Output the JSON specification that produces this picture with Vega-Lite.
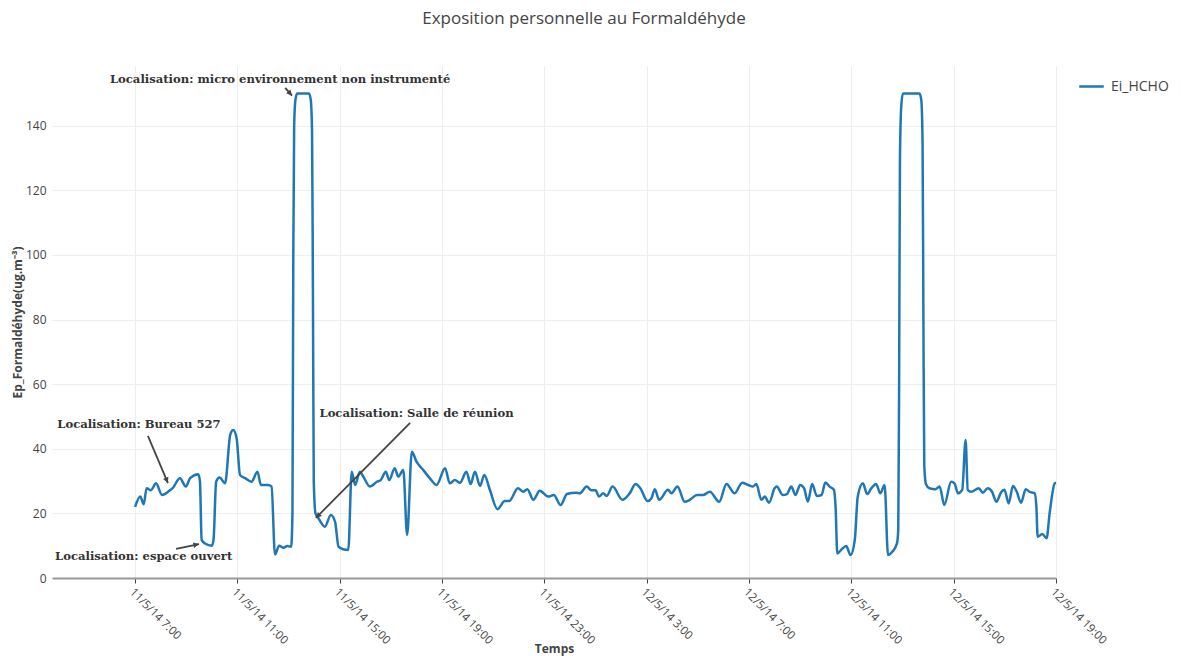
{
  "$schema": "https://vega.github.io/schema/vega-lite/v6.json",
  "width": 1004,
  "height": 512,
  "autosize": {"type": "none"},
  "padding": {"left": 52, "top": 66, "right": 125, "bottom": 78},
  "background": "white",
  "title": {"text": "Exposition personnelle au Formaldéhyde", "font": "Open Sans", "fontSize": 17, "fontWeight": "normal", "color": "#444", "anchor": "middle", "dx": 30, "offset": 38},
  "config": {
    "view": {"stroke": null},
    "axis": {"gridColor": "#eee", "gridWidth": 1, "labelFont": "Open Sans", "labelColor": "#444", "labelFontSize": 12, "titleFont": "Open Sans", "titleColor": "#444", "titleFontSize": 12, "titleFontWeight": "bold"},
    "legend": {"labelFont": "Open Sans", "labelFontSize": 14, "labelColor": "#444"}
  },
  "datasets": {
    "series": [
      {"t": "2014-05-11T07:00:00", "v": 22},
      {"t": "2014-05-11T07:12:00", "v": 25.2},
      {"t": "2014-05-11T07:20:00", "v": 22.8},
      {"t": "2014-05-11T07:27:00", "v": 27.8},
      {"t": "2014-05-11T07:37:00", "v": 27.2},
      {"t": "2014-05-11T07:49:00", "v": 29.3},
      {"t": "2014-05-11T08:03:00", "v": 25.7},
      {"t": "2014-05-11T08:22:00", "v": 27.2},
      {"t": "2014-05-11T08:28:00", "v": 27.8},
      {"t": "2014-05-11T08:45:00", "v": 30.9},
      {"t": "2014-05-11T08:59:00", "v": 28.3},
      {"t": "2014-05-11T09:09:00", "v": 30.9},
      {"t": "2014-05-11T09:28:00", "v": 32.1},
      {"t": "2014-05-11T09:32:00", "v": 30},
      {"t": "2014-05-11T09:36:00", "v": 11.8},
      {"t": "2014-05-11T09:44:00", "v": 10.7},
      {"t": "2014-05-11T10:00:00", "v": 10.0},
      {"t": "2014-05-11T10:04:00", "v": 12},
      {"t": "2014-05-11T10:10:00", "v": 29.8},
      {"t": "2014-05-11T10:18:00", "v": 31.1},
      {"t": "2014-05-11T10:31:00", "v": 29.3},
      {"t": "2014-05-11T10:43:00", "v": 44.3},
      {"t": "2014-05-11T10:50:00", "v": 45.8},
      {"t": "2014-05-11T10:58:00", "v": 43.3},
      {"t": "2014-05-11T11:06:00", "v": 31.9},
      {"t": "2014-05-11T11:18:00", "v": 30.9},
      {"t": "2014-05-11T11:33:00", "v": 29.8},
      {"t": "2014-05-11T11:47:00", "v": 32.9},
      {"t": "2014-05-11T11:55:00", "v": 28.8},
      {"t": "2014-05-11T12:12:00", "v": 28.8},
      {"t": "2014-05-11T12:20:00", "v": 28.3},
      {"t": "2014-05-11T12:28:00", "v": 7.3},
      {"t": "2014-05-11T12:38:00", "v": 10.0},
      {"t": "2014-05-11T12:48:00", "v": 9.4},
      {"t": "2014-05-11T12:57:00", "v": 9.9},
      {"t": "2014-05-11T13:06:00", "v": 9.7},
      {"t": "2014-05-11T13:09:00", "v": 20},
      {"t": "2014-05-11T13:11:00", "v": 100},
      {"t": "2014-05-11T13:13:00", "v": 140},
      {"t": "2014-05-11T13:16:00", "v": 148},
      {"t": "2014-05-11T13:20:00", "v": 150},
      {"t": "2014-05-11T13:48:00", "v": 150},
      {"t": "2014-05-11T13:52:00", "v": 148},
      {"t": "2014-05-11T13:55:00", "v": 138},
      {"t": "2014-05-11T13:57:00", "v": 90},
      {"t": "2014-05-11T13:59:00", "v": 30},
      {"t": "2014-05-11T14:03:00", "v": 20},
      {"t": "2014-05-11T14:10:00", "v": 18.5},
      {"t": "2014-05-11T14:25:00", "v": 15.9},
      {"t": "2014-05-11T14:39:00", "v": 19.5},
      {"t": "2014-05-11T14:49:00", "v": 17.4},
      {"t": "2014-05-11T14:57:00", "v": 9.7},
      {"t": "2014-05-11T15:08:00", "v": 8.9},
      {"t": "2014-05-11T15:20:00", "v": 8.7},
      {"t": "2014-05-11T15:28:00", "v": 32.9},
      {"t": "2014-05-11T15:36:00", "v": 28.8},
      {"t": "2014-05-11T15:47:00", "v": 32.9},
      {"t": "2014-05-11T15:55:00", "v": 31.4},
      {"t": "2014-05-11T16:11:00", "v": 28.3},
      {"t": "2014-05-11T16:27:00", "v": 29.8},
      {"t": "2014-05-11T16:36:00", "v": 30.3},
      {"t": "2014-05-11T16:48:00", "v": 32.9},
      {"t": "2014-05-11T16:56:00", "v": 30.3},
      {"t": "2014-05-11T17:09:00", "v": 34.0},
      {"t": "2014-05-11T17:17:00", "v": 31.4},
      {"t": "2014-05-11T17:29:00", "v": 33.4},
      {"t": "2014-05-11T17:38:00", "v": 13.3},
      {"t": "2014-05-11T17:49:00", "v": 39.1},
      {"t": "2014-05-11T18:00:00", "v": 36.0},
      {"t": "2014-05-11T18:16:00", "v": 33.4},
      {"t": "2014-05-11T18:31:00", "v": 30.9},
      {"t": "2014-05-11T18:47:00", "v": 28.8},
      {"t": "2014-05-11T19:07:00", "v": 34.0},
      {"t": "2014-05-11T19:18:00", "v": 29.3},
      {"t": "2014-05-11T19:30:00", "v": 30.3},
      {"t": "2014-05-11T19:42:00", "v": 29.5},
      {"t": "2014-05-11T19:57:00", "v": 32.9},
      {"t": "2014-05-11T20:07:00", "v": 29.1},
      {"t": "2014-05-11T20:17:00", "v": 32.9},
      {"t": "2014-05-11T20:29:00", "v": 28.5},
      {"t": "2014-05-11T20:39:00", "v": 31.9},
      {"t": "2014-05-11T20:52:00", "v": 27.3},
      {"t": "2014-05-11T21:10:00", "v": 21.3},
      {"t": "2014-05-11T21:27:00", "v": 23.8},
      {"t": "2014-05-11T21:37:00", "v": 23.8},
      {"t": "2014-05-11T21:58:00", "v": 27.8},
      {"t": "2014-05-11T22:10:00", "v": 26.7},
      {"t": "2014-05-11T22:20:00", "v": 27.5},
      {"t": "2014-05-11T22:34:00", "v": 24.2},
      {"t": "2014-05-11T22:49:00", "v": 27.0},
      {"t": "2014-05-11T23:09:00", "v": 25.2},
      {"t": "2014-05-11T23:22:00", "v": 25.7},
      {"t": "2014-05-11T23:38:00", "v": 22.6},
      {"t": "2014-05-11T23:53:00", "v": 26.0},
      {"t": "2014-05-12T00:14:00", "v": 26.4},
      {"t": "2014-05-12T00:23:00", "v": 26.2},
      {"t": "2014-05-12T00:39:00", "v": 28.3},
      {"t": "2014-05-12T00:50:00", "v": 27.2},
      {"t": "2014-05-12T01:00:00", "v": 27.2},
      {"t": "2014-05-12T01:08:00", "v": 25.2},
      {"t": "2014-05-12T01:18:00", "v": 26.2},
      {"t": "2014-05-12T01:26:00", "v": 25.4},
      {"t": "2014-05-12T01:40:00", "v": 28.3},
      {"t": "2014-05-12T02:03:00", "v": 24.2},
      {"t": "2014-05-12T02:20:00", "v": 26.2},
      {"t": "2014-05-12T02:34:00", "v": 29.1},
      {"t": "2014-05-12T02:45:00", "v": 27.8},
      {"t": "2014-05-12T03:02:00", "v": 23.8},
      {"t": "2014-05-12T03:11:00", "v": 24.7},
      {"t": "2014-05-12T03:19:00", "v": 27.5},
      {"t": "2014-05-12T03:29:00", "v": 24.2},
      {"t": "2014-05-12T03:50:00", "v": 27.3},
      {"t": "2014-05-12T03:58:00", "v": 26.2},
      {"t": "2014-05-12T04:12:00", "v": 28.3},
      {"t": "2014-05-12T04:29:00", "v": 23.6},
      {"t": "2014-05-12T04:41:00", "v": 24.2},
      {"t": "2014-05-12T04:58:00", "v": 25.7},
      {"t": "2014-05-12T05:12:00", "v": 25.7},
      {"t": "2014-05-12T05:28:00", "v": 26.7},
      {"t": "2014-05-12T05:50:00", "v": 23.6},
      {"t": "2014-05-12T06:07:00", "v": 29.1},
      {"t": "2014-05-12T06:26:00", "v": 26.2},
      {"t": "2014-05-12T06:44:00", "v": 29.5},
      {"t": "2014-05-12T06:58:00", "v": 28.8},
      {"t": "2014-05-12T07:09:00", "v": 28.3},
      {"t": "2014-05-12T07:17:00", "v": 29.1},
      {"t": "2014-05-12T07:29:00", "v": 24.2},
      {"t": "2014-05-12T07:37:00", "v": 25.2},
      {"t": "2014-05-12T07:47:00", "v": 23.3},
      {"t": "2014-05-12T08:00:00", "v": 27.8},
      {"t": "2014-05-12T08:05:00", "v": 28.3},
      {"t": "2014-05-12T08:19:00", "v": 25.7},
      {"t": "2014-05-12T08:29:00", "v": 26.0},
      {"t": "2014-05-12T08:39:00", "v": 28.3},
      {"t": "2014-05-12T08:49:00", "v": 25.7},
      {"t": "2014-05-12T09:00:00", "v": 28.8},
      {"t": "2014-05-12T09:09:00", "v": 27.8},
      {"t": "2014-05-12T09:18:00", "v": 23.6},
      {"t": "2014-05-12T09:28:00", "v": 29.1},
      {"t": "2014-05-12T09:39:00", "v": 25.4},
      {"t": "2014-05-12T09:50:00", "v": 25.7},
      {"t": "2014-05-12T09:59:00", "v": 29.6},
      {"t": "2014-05-12T10:09:00", "v": 28.3},
      {"t": "2014-05-12T10:19:00", "v": 27.3},
      {"t": "2014-05-12T10:23:00", "v": 22},
      {"t": "2014-05-12T10:27:00", "v": 7.6},
      {"t": "2014-05-12T10:36:00", "v": 8.7},
      {"t": "2014-05-12T10:48:00", "v": 9.9},
      {"t": "2014-05-12T10:58:00", "v": 7.1},
      {"t": "2014-05-12T11:08:00", "v": 11.8},
      {"t": "2014-05-12T11:15:00", "v": 25.2},
      {"t": "2014-05-12T11:27:00", "v": 29.3},
      {"t": "2014-05-12T11:37:00", "v": 26.0},
      {"t": "2014-05-12T11:47:00", "v": 27.8},
      {"t": "2014-05-12T11:58:00", "v": 29.1},
      {"t": "2014-05-12T12:08:00", "v": 26.2},
      {"t": "2014-05-12T12:18:00", "v": 28.8},
      {"t": "2014-05-12T12:26:00", "v": 7.1},
      {"t": "2014-05-12T12:36:00", "v": 8.1},
      {"t": "2014-05-12T12:47:00", "v": 10.7},
      {"t": "2014-05-12T12:50:00", "v": 15},
      {"t": "2014-05-12T12:52:00", "v": 60},
      {"t": "2014-05-12T12:54:00", "v": 130},
      {"t": "2014-05-12T12:57:00", "v": 146},
      {"t": "2014-05-12T13:01:00", "v": 150},
      {"t": "2014-05-12T13:40:00", "v": 150},
      {"t": "2014-05-12T13:44:00", "v": 148},
      {"t": "2014-05-12T13:47:00", "v": 135},
      {"t": "2014-05-12T13:49:00", "v": 80},
      {"t": "2014-05-12T13:51:00", "v": 35},
      {"t": "2014-05-12T13:55:00", "v": 29},
      {"t": "2014-05-12T14:03:00", "v": 27.8},
      {"t": "2014-05-12T14:17:00", "v": 27.5},
      {"t": "2014-05-12T14:27:00", "v": 28.3},
      {"t": "2014-05-12T14:38:00", "v": 22.6},
      {"t": "2014-05-12T14:54:00", "v": 29.8},
      {"t": "2014-05-12T15:02:00", "v": 29.3},
      {"t": "2014-05-12T15:10:00", "v": 26.2},
      {"t": "2014-05-12T15:20:00", "v": 27.3},
      {"t": "2014-05-12T15:28:00", "v": 42.7},
      {"t": "2014-05-12T15:33:00", "v": 27.3},
      {"t": "2014-05-12T15:41:00", "v": 26.7},
      {"t": "2014-05-12T15:59:00", "v": 27.8},
      {"t": "2014-05-12T16:08:00", "v": 26.4},
      {"t": "2014-05-12T16:20:00", "v": 27.8},
      {"t": "2014-05-12T16:30:00", "v": 26.7},
      {"t": "2014-05-12T16:40:00", "v": 23.6},
      {"t": "2014-05-12T16:52:00", "v": 26.7},
      {"t": "2014-05-12T16:59:00", "v": 27.3},
      {"t": "2014-05-12T17:09:00", "v": 23.1},
      {"t": "2014-05-12T17:19:00", "v": 28.5},
      {"t": "2014-05-12T17:28:00", "v": 26.7},
      {"t": "2014-05-12T17:38:00", "v": 23.3},
      {"t": "2014-05-12T17:49:00", "v": 27.5},
      {"t": "2014-05-12T17:58:00", "v": 26.7},
      {"t": "2014-05-12T18:10:00", "v": 26.2},
      {"t": "2014-05-12T18:14:00", "v": 22},
      {"t": "2014-05-12T18:17:00", "v": 12.8},
      {"t": "2014-05-12T18:28:00", "v": 13.6},
      {"t": "2014-05-12T18:38:00", "v": 12.3},
      {"t": "2014-05-12T18:45:00", "v": 20},
      {"t": "2014-05-12T18:57:00", "v": 29.3},
      {"t": "2014-05-12T19:00:00", "v": 29.5}
    ],
    "notes": [
      {"label": "Localisation: micro environnement non instrumenté", "t": "2014-05-11T12:40:00", "v": 154.2},
      {"label": "Localisation: Bureau 527", "t": "2014-05-11T07:09:00", "v": 47.4},
      {"label": "Localisation: espace ouvert", "t": "2014-05-11T07:20:00", "v": 6.5},
      {"label": "Localisation: Salle de réunion", "t": "2014-05-11T18:00:00", "v": 50.8}
    ],
    "arrows": [
      {"label": "micro", "t": "2014-05-11T13:08:00", "v": 149.3, "t2": "2014-05-11T12:52:00", "v2": 151.7},
      {"label": "bureau", "t": "2014-05-11T08:17:00", "v": 29.4, "t2": "2014-05-11T07:30:00", "v2": 44.0},
      {"label": "espace", "t": "2014-05-11T09:30:00", "v": 10.5, "t2": "2014-05-11T08:36:00", "v2": 9.0},
      {"label": "salle", "t": "2014-05-11T14:04:00", "v": 18.6, "t2": "2014-05-11T17:45:00", "v2": 48.0}
    ]
  },
  "layer": [
    {
      "data": {"name": "series"},
      "mark": {"type": "line", "interpolate": "monotone", "strokeWidth": 2.5},
      "encoding": {
        "x": {"field": "t", "type": "temporal",
          "scale": {"domain": [{"year": 2014, "month": 5, "date": 11, "hours": 3, "minutes": 45}, {"year": 2014, "month": 5, "date": 12, "hours": 19}]},
          "axis": {"title": "Temps", "titleY": 70, "titleBaseline": "middle", "values": [
            {"year": 2014, "month": 5, "date": 11, "hours": 7},
            {"year": 2014, "month": 5, "date": 11, "hours": 11},
            {"year": 2014, "month": 5, "date": 11, "hours": 15},
            {"year": 2014, "month": 5, "date": 11, "hours": 19},
            {"year": 2014, "month": 5, "date": 11, "hours": 23},
            {"year": 2014, "month": 5, "date": 12, "hours": 3},
            {"year": 2014, "month": 5, "date": 12, "hours": 7},
            {"year": 2014, "month": 5, "date": 12, "hours": 11},
            {"year": 2014, "month": 5, "date": 12, "hours": 15},
            {"year": 2014, "month": 5, "date": 12, "hours": 19}
          ], "format": "%-d/%-m/%y %-H:%M", "labelAngle": 45, "labelAlign": "left", "labelBaseline": "top", "labelPadding": 3, "labelFontSize": 11.5, "tickSize": 5, "tickColor": "#444", "domainColor": "#999", "domainWidth": 2, "labelOverlap": false, "labelBound": false, "labelFlush": false}},
        "y": {"field": "v", "type": "quantitative",
          "scale": {"domain": [0, 158.5], "nice": false},
          "axis": {"title": "Ep_Formaldéhyde(ug.m⁻³)", "titleX": -35, "titleY": 256, "titleAngle": -90, "titleAlign": "center", "titleBaseline": "middle", "values": [0, 20, 40, 60, 80, 100, 120, 140], "domain": false, "ticks": false, "labelPadding": 6}},
        "color": {"datum": "Ei_HCHO", "type": "nominal", "scale": {"range": ["#1f77b4"]},
          "legend": {"title": null, "orient": "none", "legendX": 1026, "legendY": 7, "symbolType": "stroke", "symbolSize": 600, "symbolStrokeWidth": 2.5, "labelOffset": 6}}
      }
    },
    {
      "data": {"name": "arrows"},
      "mark": {"type": "rule", "color": "#444", "strokeWidth": 1.8},
      "encoding": {
        "x": {"field": "t", "type": "temporal"},
        "y": {"field": "v", "type": "quantitative"},
        "x2": {"field": "t2"},
        "y2": {"field": "v2"}
      }
    },
    {
      "data": {"name": "arrows"},
      "transform": [{"filter": "datum.label === 'micro'"}],
      "mark": {"type": "point", "shape": "M0,0L-0.6,1.2L0.6,1.2Z", "filled": true, "color": "#444", "opacity": 1, "size": 90, "angle": 139},
      "encoding": {"x": {"field": "t", "type": "temporal"}, "y": {"field": "v", "type": "quantitative"}}
    },
    {
      "data": {"name": "arrows"},
      "transform": [{"filter": "datum.label === 'bureau'"}],
      "mark": {"type": "point", "shape": "M0,0L-0.6,1.2L0.6,1.2Z", "filled": true, "color": "#444", "opacity": 1, "size": 90, "angle": 157},
      "encoding": {"x": {"field": "t", "type": "temporal"}, "y": {"field": "v", "type": "quantitative"}}
    },
    {
      "data": {"name": "arrows"},
      "transform": [{"filter": "datum.label === 'espace'"}],
      "mark": {"type": "point", "shape": "M0,0L-0.6,1.2L0.6,1.2Z", "filled": true, "color": "#444", "opacity": 1, "size": 90, "angle": 78},
      "encoding": {"x": {"field": "t", "type": "temporal"}, "y": {"field": "v", "type": "quantitative"}}
    },
    {
      "data": {"name": "arrows"},
      "transform": [{"filter": "datum.label === 'salle'"}],
      "mark": {"type": "point", "shape": "M0,0L-0.6,1.2L0.6,1.2Z", "filled": true, "color": "#444", "opacity": 1, "size": 90, "angle": 225},
      "encoding": {"x": {"field": "t", "type": "temporal"}, "y": {"field": "v", "type": "quantitative"}}
    },
    {
      "data": {"name": "notes"},
      "mark": {"type": "text", "font": "DejaVu Serif", "fontWeight": "bold", "fontSize": 11.6, "color": "#333", "align": "center", "baseline": "middle"},
      "encoding": {
        "x": {"field": "t", "type": "temporal"},
        "y": {"field": "v", "type": "quantitative"},
        "text": {"field": "label"}
      }
    }
  ]
}
